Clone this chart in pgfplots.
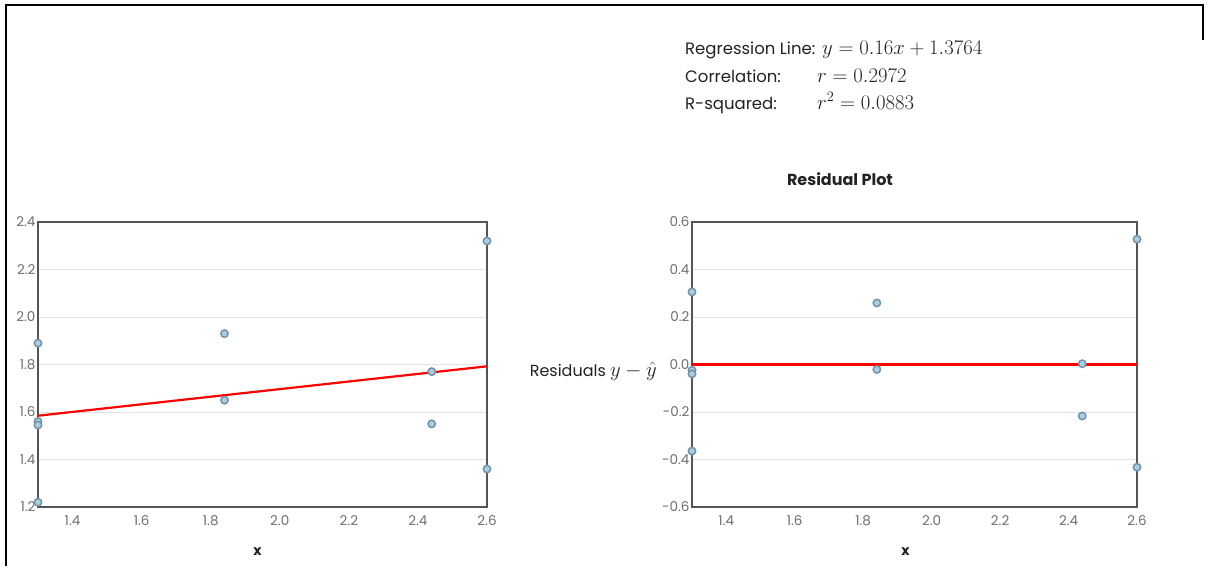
\documentclass[border=0pt]{standalone}
\usepackage[no-math]{fontspec}
\setmainfont{Poppins}
\usepackage{pgfplots}
\pgfplotsset{compat=1.18}
\definecolor{axisgray}{HTML}{555555}
\definecolor{ticktext}{HTML}{6E6E6E}
\definecolor{gridgray}{HTML}{E3E3E3}
\definecolor{markfill}{HTML}{A6CFE2}
\definecolor{markdraw}{HTML}{7591A8}
\definecolor{labeltext}{HTML}{222222}

\pgfplotsset{
  resid/.style={
    scale only axis,
    axis line style={draw=axisgray, line width=1.8pt},
    major tick length=0pt,
    ymajorgrids, grid style={draw=gridgray, line width=0.9pt},
    tick label style={font=\fontsize{13.5}{15}\selectfont, text=ticktext,
      /pgf/number format/fixed, /pgf/number format/fixed zerofill,
      /pgf/number format/precision=1, /pgf/number format/assume math mode=true},
    yticklabel style={xshift=1pt},
    xticklabel style={yshift=-5pt},
    xmin=1.3, xmax=2.6,
    xtick={1.4,1.6,1.8,2.0,2.2,2.4,2.6},
    clip=false,
    xlabel={\textbf{x}},
    xlabel style={at={(axis description cs:0.5,0)}, anchor=center, yshift=-45pt,
      font=\fontsize{14}{16}\selectfont, text=labeltext},
  },
  dotstyle/.style={only marks, mark=*, mark size=3.7pt,
    mark options={fill=markfill, draw=markdraw, line width=1.5pt}},
}

\pgfplotstableread{
x y
1.3 1.89
1.3 1.56
1.3 1.545
1.3 1.22
1.84 1.93
1.84 1.65
2.44 1.77
2.44 1.55
2.6 2.32
2.6 1.36
}\datatable

\pgfplotstableread{
x r
1.3 0.3056
1.3 -0.0244
1.3 -0.0394
1.3 -0.3644
1.84 0.2592
1.84 -0.0208
2.44 0.0032
2.44 -0.2168
2.6 0.5276
2.6 -0.4324
}\residtable

\begin{document}
\begin{tikzpicture}
\path[use as bounding box] (0pt,0pt) rectangle (1215pt,-566pt);
\draw[line width=2pt] (6pt,-566pt) -- (6pt,-5pt) -- (1203pt,-5pt) -- (1203pt,-40pt);

\begin{axis}[resid, at={(38pt,-507pt)}, anchor=south west,
  width=449pt, height=285pt,
  xlabel style={xshift=-5pt},
  ymin=1.2, ymax=2.4, ytick={1.2,1.4,1.6,1.8,2.0,2.2,2.4}]
  \addplot[red, line width=2.2pt] coordinates {(1.3,1.5844) (2.6,1.7924)};
  \addplot[dotstyle] table[x=x, y=y] {\datatable};
\end{axis}

\begin{axis}[resid, at={(692pt,-507pt)}, anchor=south west,
  width=445pt, height=285pt,
  xlabel style={xshift=-9pt},
  ymin=-0.6, ymax=0.6, ytick={-0.6,-0.4,-0.2,0,0.2,0.4,0.6}]
  \addplot[red, line width=2.2pt] coordinates {(1.3,0) (2.6,0)};
  \addplot[dotstyle] table[x=x, y=r] {\residtable};
\end{axis}

\node[anchor=center, font=\bfseries\fontsize{16}{18}\selectfont, text=labeltext] at (840pt,-179pt) {Residual Plot};

\node[anchor=east, inner sep=0pt, text=labeltext] at (657pt,-371pt)
  {\fontsize{16}{18}\selectfont Residuals \fontsize{22}{24}\selectfont$y-\hat{y}$};

\begin{scope}[every node/.style={inner sep=0pt, text=labeltext}]
\node[anchor=base west, font=\fontsize{16.5}{18}\selectfont] at (685pt,-54pt) {Regression Line:};
\node[anchor=base west, font=\fontsize{16.5}{18}\selectfont] at (685pt,-82pt) {Correlation:};
\node[anchor=base west, font=\fontsize{16.5}{18}\selectfont] at (685pt,-109pt) {R-squared:};
\node[anchor=base west, font=\fontsize{22}{24}\selectfont] at (822pt,-54pt) {$y = 0.16x + 1.3764$};
\node[anchor=base west, font=\fontsize{22}{24}\selectfont] at (817pt,-82pt) {$r = 0.2972$};
\node[anchor=base west, font=\fontsize{22}{24}\selectfont] at (817pt,-109pt) {$r^2 = 0.0883$};
\end{scope}
\end{tikzpicture}
\end{document}
